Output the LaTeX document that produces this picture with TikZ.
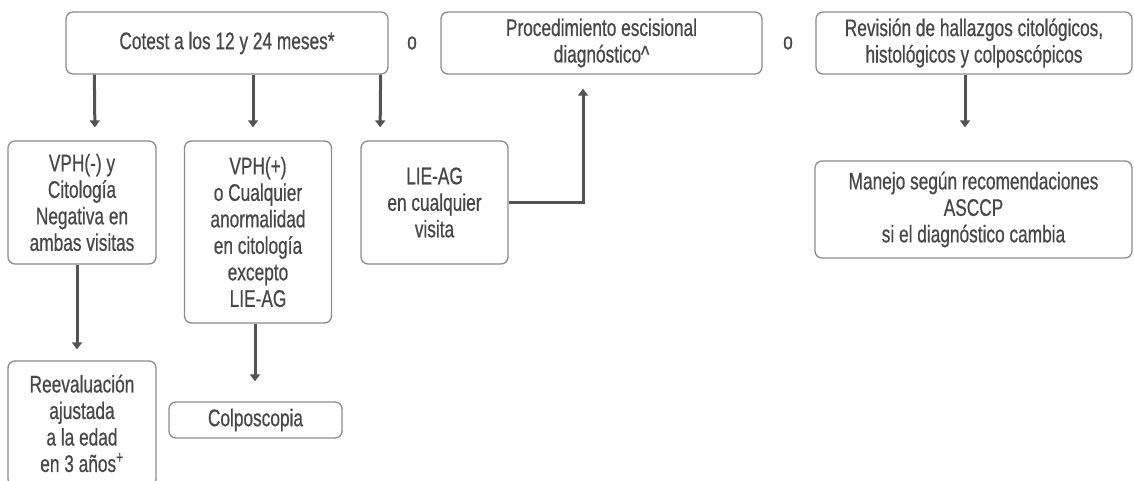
\documentclass[tikz,border=0pt]{standalone}
\usepackage{fontspec}
\setmainfont{Liberation Sans}[FakeStretch=0.72,FakeBold=0.6]
\usetikzlibrary{arrows.meta}
\definecolor{txt}{HTML}{474747}
\definecolor{frame}{HTML}{8C8C8C}
\definecolor{link}{HTML}{535353}
\begin{document}
\begin{tikzpicture}[x=1pt,y=-1pt,
  box/.style={draw=frame,line width=1.3pt,rounded corners=7pt,align=center,
    text=txt,font=\fontsize{24}{26.5}\selectfont,inner sep=0pt},
  word/.style={text=txt,font=\fontsize{24}{26.5}\selectfont,inner sep=0pt},
  arr/.style={draw=link,line width=3pt,-{Triangle[width=10pt,length=7pt]}}]
\useasboundingbox (0,0) rectangle (1134,481);
\clip (0,0) rectangle (1134,481);
% top row
\node[box,minimum width=322pt,minimum height=62pt] (cot) at (227,43) {Cotest a los 12 y 24 meses*};
\node[word] (o1) at (412,43) {o};
\node[box,minimum width=321pt,minimum height=62pt] (proc) at (601.5,43) {Procedimiento escisional\\diagnóstico\^{}};
\node[word] (o2) at (788,43) {o};
\node[box,minimum width=316pt,minimum height=62pt] (rev) at (974,43) {Revisión de hallazgos citológicos,\\histológicos y colposcópicos};
% second row
\node[box,minimum width=148pt,minimum height=123pt] (vneg) at (82,202.5) {VPH(-) y\\Citología\\Negativa en\\ambas visitas};
\node[box,minimum width=147pt,minimum height=182pt] (vpos) at (258,232) {VPH(+)\\o Cualquier\\anormalidad\\en citología\\excepto\\LIE-AG};
\node[box,minimum width=147pt,minimum height=123pt] (lie) at (434.5,202.5) {LIE-AG\\en cualquier\\visita};
\node[box,minimum width=317pt,minimum height=97pt] (man) at (973.5,209.5) {Manejo según recomendaciones\\ASCCP\\si el diagnóstico cambia};
% third row
\node[box,minimum width=148pt,minimum height=125pt] (reev) at (82,423.5) {Reevaluación\\ajustada\\a la edad\\en 3 años\textsuperscript{+}};
\node[box,minimum width=173pt,minimum height=36pt] (col) at (255.5,420) {Colposcopia};
% connectors
\draw[arr,shorten >=13pt] ([xshift=29pt]cot.south west) -- ([xshift=13pt]vneg.north);
\draw[arr,shorten >=13pt] ([xshift=26pt]cot.south) -- ([xshift=-5pt]vpos.north);
\draw[arr,shorten >=13pt] ([xshift=-8pt]cot.south east) -- ([xshift=-54.5pt]lie.north);
\draw[arr,shorten >=11pt] ([xshift=-5pt]vneg.south) -- ([xshift=-5pt]reev.north);
\draw[arr,shorten >=20pt] ([xshift=-3pt]vpos.south) -- ([xshift=-0.5pt]col.north);
\draw[arr,shorten >=14pt] (lie.east) -| ([xshift=-18.5pt]proc.south);
\draw[arr,shorten >=33pt] ([xshift=-9pt]rev.south) -- ([xshift=-8.5pt]man.north);
\end{tikzpicture}
\end{document}
